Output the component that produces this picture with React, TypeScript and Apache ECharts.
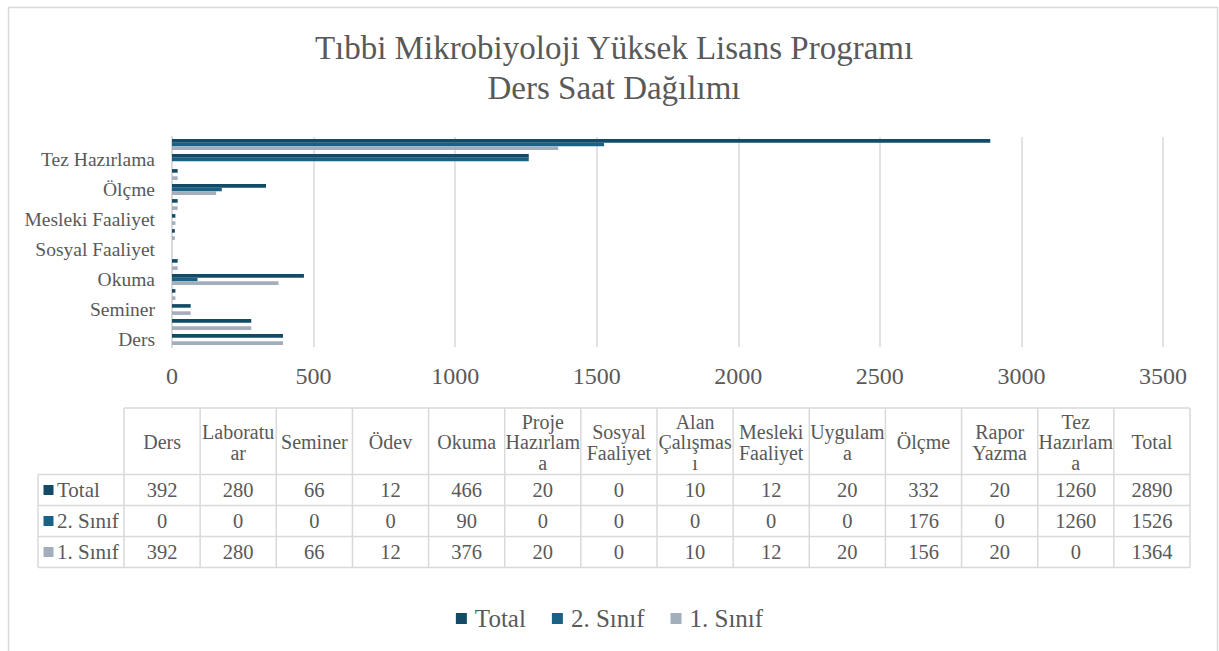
import React, { useEffect, useRef } from "react";
import * as echarts from "echarts";

const categories = [
  "Ders", "Laboratuar", "Seminer", "Ödev", "Okuma", "Proje Hazırlama", "Sosyal Faaliyet",
  "Alan Çalışması", "Mesleki Faaliyet", "Uygulama", "Ölçme", "Rapor Yazma", "Tez Hazırlama", "Total",
];
const headerLabels = [
  "Ders", "Laboratu\nar", "Seminer", "Ödev", "Okuma", "Proje\nHazırlam\na", "Sosyal\nFaaliyet",
  "Alan\nÇalışmas\nı", "Mesleki\nFaaliyet", "Uygulam\na", "Ölçme", "Rapor\nYazma", "Tez\nHazırlam\na", "Total",
];
const totalValues = [392, 280, 66, 12, 466, 20, 0, 10, 12, 20, 332, 20, 1260, 2890];
const sinif2Values = [0, 0, 0, 0, 90, 0, 0, 0, 0, 0, 176, 0, 1260, 1526];
const sinif1Values = [392, 280, 66, 12, 376, 20, 0, 10, 12, 20, 156, 20, 0, 1364];
const seriesNames = ["Total", "2. Sınıf", "1. Sınıf"];
const seriesValues = [totalValues, sinif2Values, sinif1Values];
const seriesColors = ["#134B67", "#1A6186", "#A2AEBC"];
const xMin = 0;
const xMax = 3500;
const xStep = 500;

const titleLines = ["Tıbbi Mikrobiyoloji Yüksek Lisans Programı", "Ders Saat Dağılımı"];

const FONT = "'Liberation Serif', 'Times New Roman', serif";
const TEXT = "#595959";
const LINE = "#D9D9D9";

function buildTable(): any[] {
  const els: any[] = [];
  const left = 38;
  const colStart = 124;
  const right = 1190;
  const colW = (right - colStart) / headerLabels.length;
  const headTop = 408;
  const headBottom = 474.5;
  const rowH = 31;
  const bottom = headBottom + rowH * seriesNames.length;
  els.push({ type: "line", shape: { x1: colStart, y1: headTop, x2: right, y2: headTop }, style: { stroke: LINE, lineWidth: 1.5 } });
  for (let r = 0; r <= seriesNames.length; r++) {
    const y = headBottom + r * rowH;
    els.push({ type: "line", shape: { x1: left, y1: y, x2: right, y2: y }, style: { stroke: LINE, lineWidth: 1.5 } });
  }
  els.push({ type: "line", shape: { x1: left, y1: headBottom, x2: left, y2: bottom }, style: { stroke: LINE, lineWidth: 1.5 } });
  for (let c = 0; c <= headerLabels.length; c++) {
    const x = colStart + c * colW;
    els.push({ type: "line", shape: { x1: x, y1: headTop, x2: x, y2: bottom }, style: { stroke: LINE, lineWidth: 1.5 } });
  }
  headerLabels.forEach((h, c) => {
    els.push({
      type: "text",
      style: {
        text: h, x: colStart + (c + 0.5) * colW, y: (headTop + headBottom) / 2 + 1,
        align: "center", verticalAlign: "middle", fontSize: 20, lineHeight: 20.5,
        fontFamily: FONT, fill: TEXT,
      },
    });
  });
  seriesNames.forEach((name, r) => {
    const cy = headBottom + (r + 0.5) * rowH;
    els.push({ type: "rect", shape: { x: 43.5, y: cy - 5, width: 10, height: 10 }, style: { fill: seriesColors[r] } });
    els.push({
      type: "text",
      style: { text: name, x: 57, y: cy, align: "left", verticalAlign: "middle", fontSize: 21, fontFamily: FONT, fill: TEXT },
    });
    seriesValues[r].forEach((v, c) => {
      els.push({
        type: "text",
        style: {
          text: String(v), x: colStart + (c + 0.5) * colW, y: cy,
          align: "center", verticalAlign: "middle", fontSize: 20.5, fontFamily: FONT, fill: TEXT,
        },
      });
    });
  });
  return els;
}

export default function App() {
  const ref = useRef<HTMLDivElement>(null);
  useEffect(() => {
    if (!ref.current) return;
    const chart = echarts.init(ref.current, undefined, { renderer: "svg" });
    const option: any = {
      animation: false,
      backgroundColor: "#FFFFFF",
      grid: { left: 172, right: 56, top: 137, bottom: 304, containLabel: false, outerBoundsMode: "none" },
      xAxis: {
        type: "value",
        min: xMin,
        max: xMax,
        interval: xStep,
        axisLine: { show: false },
        axisTick: { show: false },
        splitLine: { show: true, lineStyle: { color: LINE, width: 1.5 } },
        axisLabel: { color: TEXT, fontSize: 24, fontFamily: FONT, margin: 17, formatter: (v: number) => String(v) },
      },
      yAxis: {
        type: "category",
        data: categories,
        axisLine: { show: true, lineStyle: { color: LINE, width: 2 } },
        axisTick: { show: false },
        axisLabel: { color: TEXT, fontSize: 19.5, fontFamily: FONT, margin: 17, interval: 1 },
      },
      legend: {
        data: seriesNames,
        left: "center",
        top: 601,
        icon: "rect",
        itemWidth: 11,
        itemHeight: 11,
        itemGap: 26,
        textStyle: { color: TEXT, fontSize: 25, fontFamily: FONT, padding: [0, 0, 0, 3] },
      },
      series: seriesNames.map((name, i) => ({
        name,
        type: "bar",
        data: seriesValues[i],
        barGap: "0%",
        barCategoryGap: "28%",
        itemStyle: { color: seriesColors[i] },
      })),
      graphic: [
        {
          type: "rect",
          silent: true,
          shape: { x: 8.5, y: 7.5, width: 1209, height: 700 },
          style: { fill: "none", stroke: LINE, lineWidth: 1.5 },
          z: -10,
        },
        {
          type: "text",
          style: {
            text: titleLines.join("\n"), x: 614, y: 68, align: "center", verticalAlign: "middle",
            fontSize: 33, lineHeight: 40, fontFamily: FONT, fill: TEXT,
          },
        },
        ...buildTable(),
      ],
    };
    chart.setOption(option);
    return () => chart.dispose();
  }, []);
  return <div ref={ref} style={{ position: "absolute", left: 0, top: 0, width: 1219, height: 651 }} />;
}
